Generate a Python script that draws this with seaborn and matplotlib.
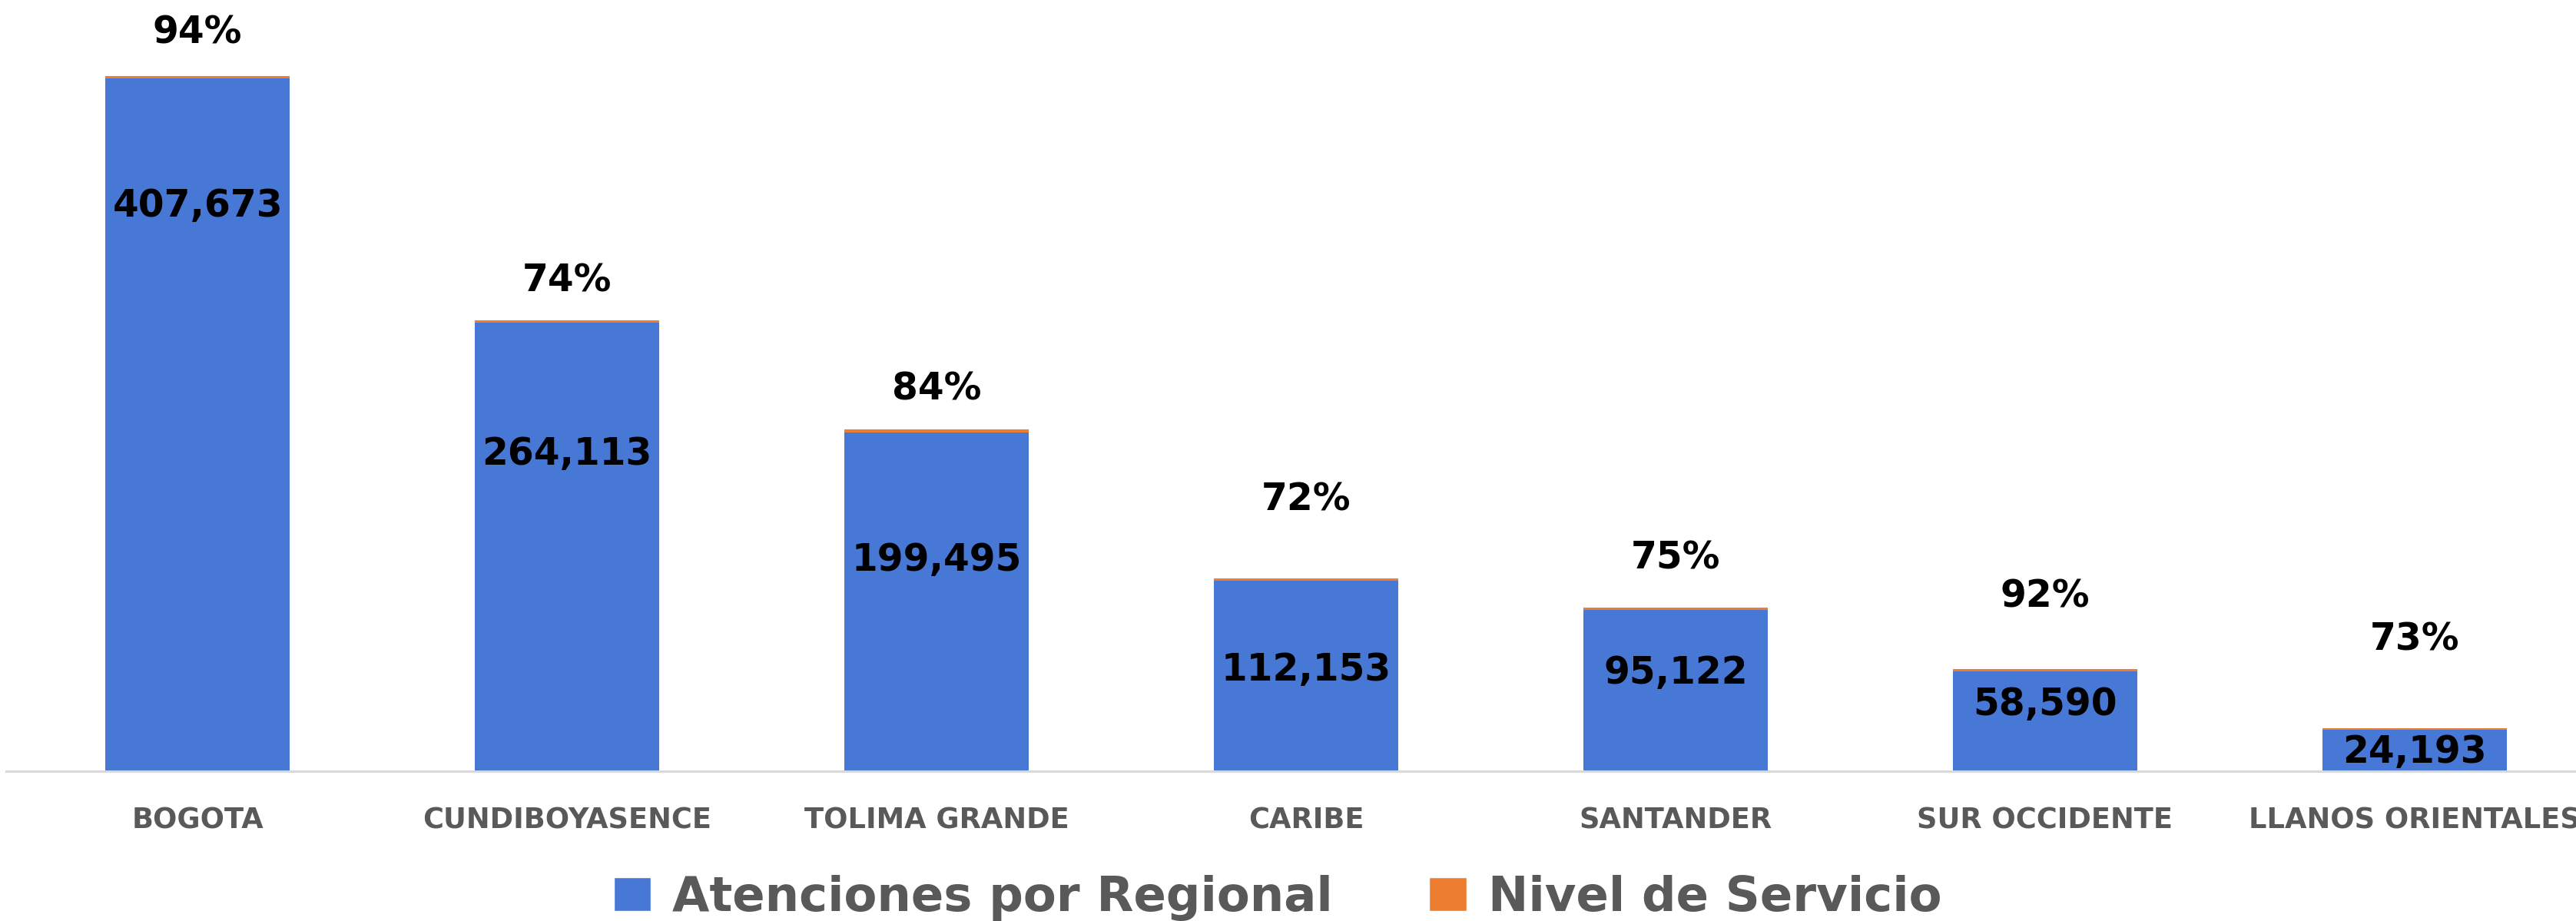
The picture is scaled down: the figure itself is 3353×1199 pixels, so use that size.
"""
Atenciones por Regional with Nivel de Servicio — stacked bar recreation.
"""

import matplotlib
matplotlib.use("Agg")
import matplotlib.pyplot as plt
from matplotlib.patches import Patch
import pandas as pd
import seaborn as sns

# ---------------------------------------------------------------------------
# Data
# ---------------------------------------------------------------------------
regionales = [
    "BOGOTA", "CUNDIBOYASENCE", "TOLIMA GRANDE", "CARIBE",
    "SANTANDER", "SUR OCCIDENTE", "LLANOS ORIENTALES",
]
atenciones = [407673, 264113, 199495, 112153, 95122, 58590, 24193]
nivel_servicio = [0.94, 0.74, 0.84, 0.72, 0.75, 0.92, 0.73]

# ---------------------------------------------------------------------------
# Style
# ---------------------------------------------------------------------------
BLUE = "#4878d5"
ORANGE = "#ed7d31"
GREY = "#595959"
NIVEL_SCALE = 1700          # visual height of the orange segment per unit of %
LABEL_FRAC = [0.816, 0.707, 0.623, 0.53, 0.61, 0.67, 0.46]   # value label height in bar
PCT_GAP_PX = [56, 51, 53, 103, 64, 94, 115]                  # % label gap above bar

sns.set_theme(style="white")
plt.rcParams["font.family"] = ["DejaVu Sans"]

df = pd.DataFrame({
    "regional": regionales,
    "atenciones": atenciones,
    "nivel": nivel_servicio,
})
df["total"] = df["atenciones"] + df["nivel"] * NIVEL_SCALE

W, H, DPI = 3353, 1199, 100
fig = plt.figure(figsize=(W / DPI, H / DPI), dpi=DPI)
ax = fig.add_axes([8 / W, 195 / H, 3384 / W, 1004 / H])

# orange segment = full stack, blue drawn over it
sns.barplot(data=df, x="regional", y="total", color=ORANGE, width=0.5,
            saturation=1, linewidth=0, ax=ax)
sns.barplot(data=df, x="regional", y="atenciones", color=BLUE, width=0.5,
            saturation=1, linewidth=0, ax=ax)

ax.set_xlim(-0.518, 6.518)
ax.set_ylim(0, 453800)

for i, row in df.iterrows():
    ax.text(i, row["atenciones"] * LABEL_FRAC[i], f"{row['atenciones']:,}",
            ha="center", va="center", fontsize=35, fontweight="bold",
            color="black")
    ax.annotate(f"{row['nivel']:.0%}", xy=(i, row["total"]),
                xytext=(0, PCT_GAP_PX[i] * 0.72), textcoords="offset points",
                ha="center", va="center", fontsize=35, fontweight="bold",
                color="black")

ax.set_xlabel("")
ax.set_ylabel("")
ax.set_yticks([])
ax.tick_params(axis="x", length=0, pad=33, labelsize=26.5, labelcolor=GREY)
for lbl in ax.get_xticklabels():
    lbl.set_fontweight("bold")
for side in ["top", "left", "right"]:
    ax.spines[side].set_visible(False)
ax.spines["bottom"].set_color("#d9d9d9")
ax.spines["bottom"].set_linewidth(2.2)

handles = [
    Patch(facecolor=BLUE, label="Atenciones por Regional"),
    Patch(facecolor=ORANGE, label="Nivel de Servicio"),
]
fig.legend(handles=handles, loc="center", bbox_to_anchor=(0.496, 0.025),
           ncol=2, frameon=False, handlelength=0.78, handleheight=0.7,
           handletextpad=0.45, columnspacing=2.0,
           prop={"size": 45, "weight": "bold"}, labelcolor=GREY)

fig.savefig("out.png", dpi=DPI)
plt.close(fig)
